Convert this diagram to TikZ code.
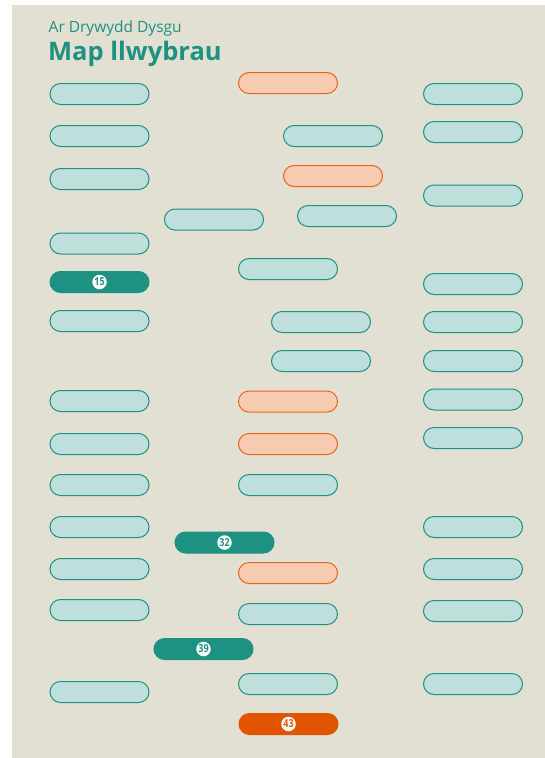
\documentclass[tikz,border=0pt]{standalone}
\usepackage{fontspec}
\setmainfont{Open Sans}
\definecolor{bg}{HTML}{E2DFD3}
\definecolor{teal}{HTML}{1E9282}
\definecolor{tealfill}{HTML}{BFDFDC}
\definecolor{orng}{HTML}{E8661E}
\definecolor{orngfill}{HTML}{F6CBB0}
\definecolor{dorng}{HTML}{E25500}
\newcommand{\badgenum}[1]{\scalebox{0.82}[1]{#1}}
\tikzset{
  pill/.style={draw, line width=1pt, minimum width=99pt, minimum height=21pt, rounded corners=10.5pt, inner sep=0pt},
  tpill/.style={pill, draw=teal, fill=tealfill},
  opill/.style={pill, draw=orng, fill=orngfill},
  dtpill/.style={pill, draw=teal, fill=teal},
  dopill/.style={pill, draw=dorng, fill=dorng},
  badge/.style={circle, fill=white, inner sep=0pt, minimum size=14.5pt, font=\fontsize{11}{11}\selectfont\bfseries},
}
\begin{document}
\begin{tikzpicture}[x=1pt,y=-1pt]
\useasboundingbox (0,0) rectangle (545,758);
\fill[bg] (12,5) rectangle (545,758);
\node[anchor=base west, text=teal, inner sep=0pt, font=\fontsize{15.5}{15.5}\selectfont] (sub) at (48.5,32) {Ar Drywydd Dysgu};
\node[anchor=base west, text=teal, inner sep=0pt, font=\fontsize{25.5}{25.5}\selectfont\bfseries] (title) at (48,60.5) {Map llwybrau};
% left column
\node[tpill] (l1) at (99.5,94) {};
\node[tpill] (l2) at (99.5,136) {};
\node[tpill] (l3) at (99.5,179) {};
\node[tpill] (l4) at (99.5,243.5) {};
\node[dtpill] (l5) at (99.5,282) {};
\node[badge, text=teal] (b15) at (l5) {\badgenum{15}};
\node[tpill] (l6) at (99.5,321) {};
\node[tpill] (l7) at (99.5,401) {};
\node[tpill] (l8) at (99.5,444) {};
\node[tpill] (l9) at (99.5,485) {};
\node[tpill] (l10) at (99.5,527) {};
\node[tpill] (l11) at (99.5,569) {};
\node[tpill] (l12) at (99.5,610) {};
\node[tpill] (l13) at (99.5,692) {};
% centre-left
\node[tpill] (cl1) at (214,219.5) {};
\node[dtpill] (cl2) at (224.5,542.5) {};
\node[badge, text=teal] (b32) at (cl2) {\badgenum{32}};
\node[dtpill] (cl3) at (203.5,649) {};
\node[badge, text=teal] (b39) at (cl3) {\badgenum{39}};
% centre
\node[opill] (c1) at (288,83) {};
\node[tpill] (c2) at (288,269) {};
\node[opill] (c3) at (288,401.5) {};
\node[opill] (c4) at (288,444) {};
\node[tpill] (c5) at (288,485) {};
\node[opill] (c6) at (288,573) {};
\node[tpill] (c7) at (288,614) {};
\node[tpill] (c8) at (288,684) {};
\node[dopill] (c9) at (288.5,724) {};
\node[badge, text=dorng] (b43) at (c9) {\badgenum{43}};
% centre-right
\node[tpill] (cr1) at (333,136) {};
\node[opill] (cr2) at (333,176) {};
\node[tpill] (cr3) at (347,216) {};
\node[tpill] (cr4) at (321,322) {};
\node[tpill] (cr5) at (321,361) {};
% right column
\node[tpill] (r1) at (473,94) {};
\node[tpill] (r2) at (473,132) {};
\node[tpill] (r3) at (473,195.5) {};
\node[tpill] (r4) at (473,284) {};
\node[tpill] (r5) at (473,322) {};
\node[tpill] (r6) at (473,361) {};
\node[tpill] (r7) at (473,399.5) {};
\node[tpill] (r8) at (473,438) {};
\node[tpill] (r9) at (473,527) {};
\node[tpill] (r10) at (473,569) {};
\node[tpill] (r11) at (473,611) {};
\node[tpill] (r12) at (473,684) {};
\end{tikzpicture}
\end{document}
